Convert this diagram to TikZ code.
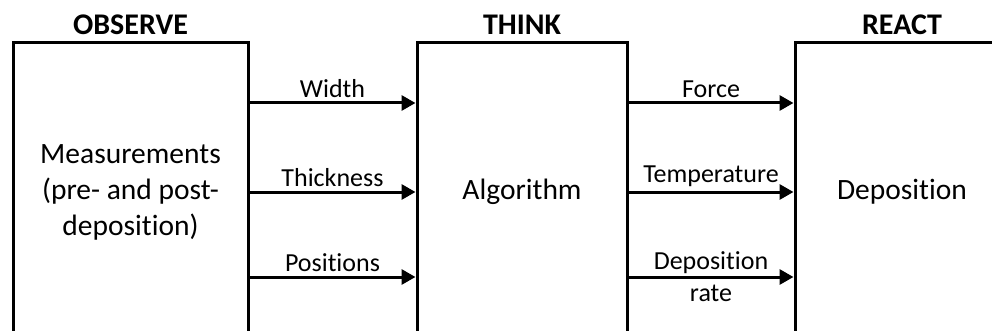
\documentclass[tikz,border=0pt]{standalone}
\usepackage{fontspec}
\setmainfont{Carlito}[Ligatures=NoCommon]
\usetikzlibrary{arrows.meta,positioning}

\begin{document}
\begin{tikzpicture}[x=1pt,y=-1pt,
  block/.style={draw,line width=3pt,minimum height=298pt,align=center,
    font=\fontsize{29.5}{36}\selectfont},
  stage/.style={font=\fontsize{30}{34}\selectfont\bfseries,inner sep=2pt},
  link/.style={line width=3pt,-{Triangle[length=14pt,width=15pt]}},
  lbl/.style={font=\fontsize{26}{32}\selectfont,align=center}]
\useasboundingbox (0,0) rectangle (992,331);
\clip (0,0) rectangle (992,331);
% Blocks (open at the bottom edge)
\node[block,minimum width=235pt] (observe) at (130.5,192) {Measurements\\(pre- and post-\\deposition)};
\node[block,minimum width=210pt] (think) at (522,192) {Algorithm};
\node[block,minimum width=214pt] (react) at (902,192) {Deposition};
% Headings
\node[stage,above=5pt of observe] (observe-title) {OBSERVE};
\node[stage,above=5pt of think] (think-title) {THINK};
\node[stage,above=5pt of react] (react-title) {REACT};
% Signals between blocks
\foreach \y/\txt in {103/Width,192/Thickness,277/Positions}
  \draw[link] (observe.east |- 0,\y) -- node[lbl,above] {\txt} (think.west |- 0,\y);
\foreach \y/\txt in {103/Force,192/Temperature}
  \draw[link] (think.east |- 0,\y) -- node[lbl,above] {\txt} (react.west |- 0,\y);
\draw[link] (think.east |- 0,277) -- node[lbl] {Deposition\\rate} (react.west |- 0,277);
\end{tikzpicture}
\end{document}
